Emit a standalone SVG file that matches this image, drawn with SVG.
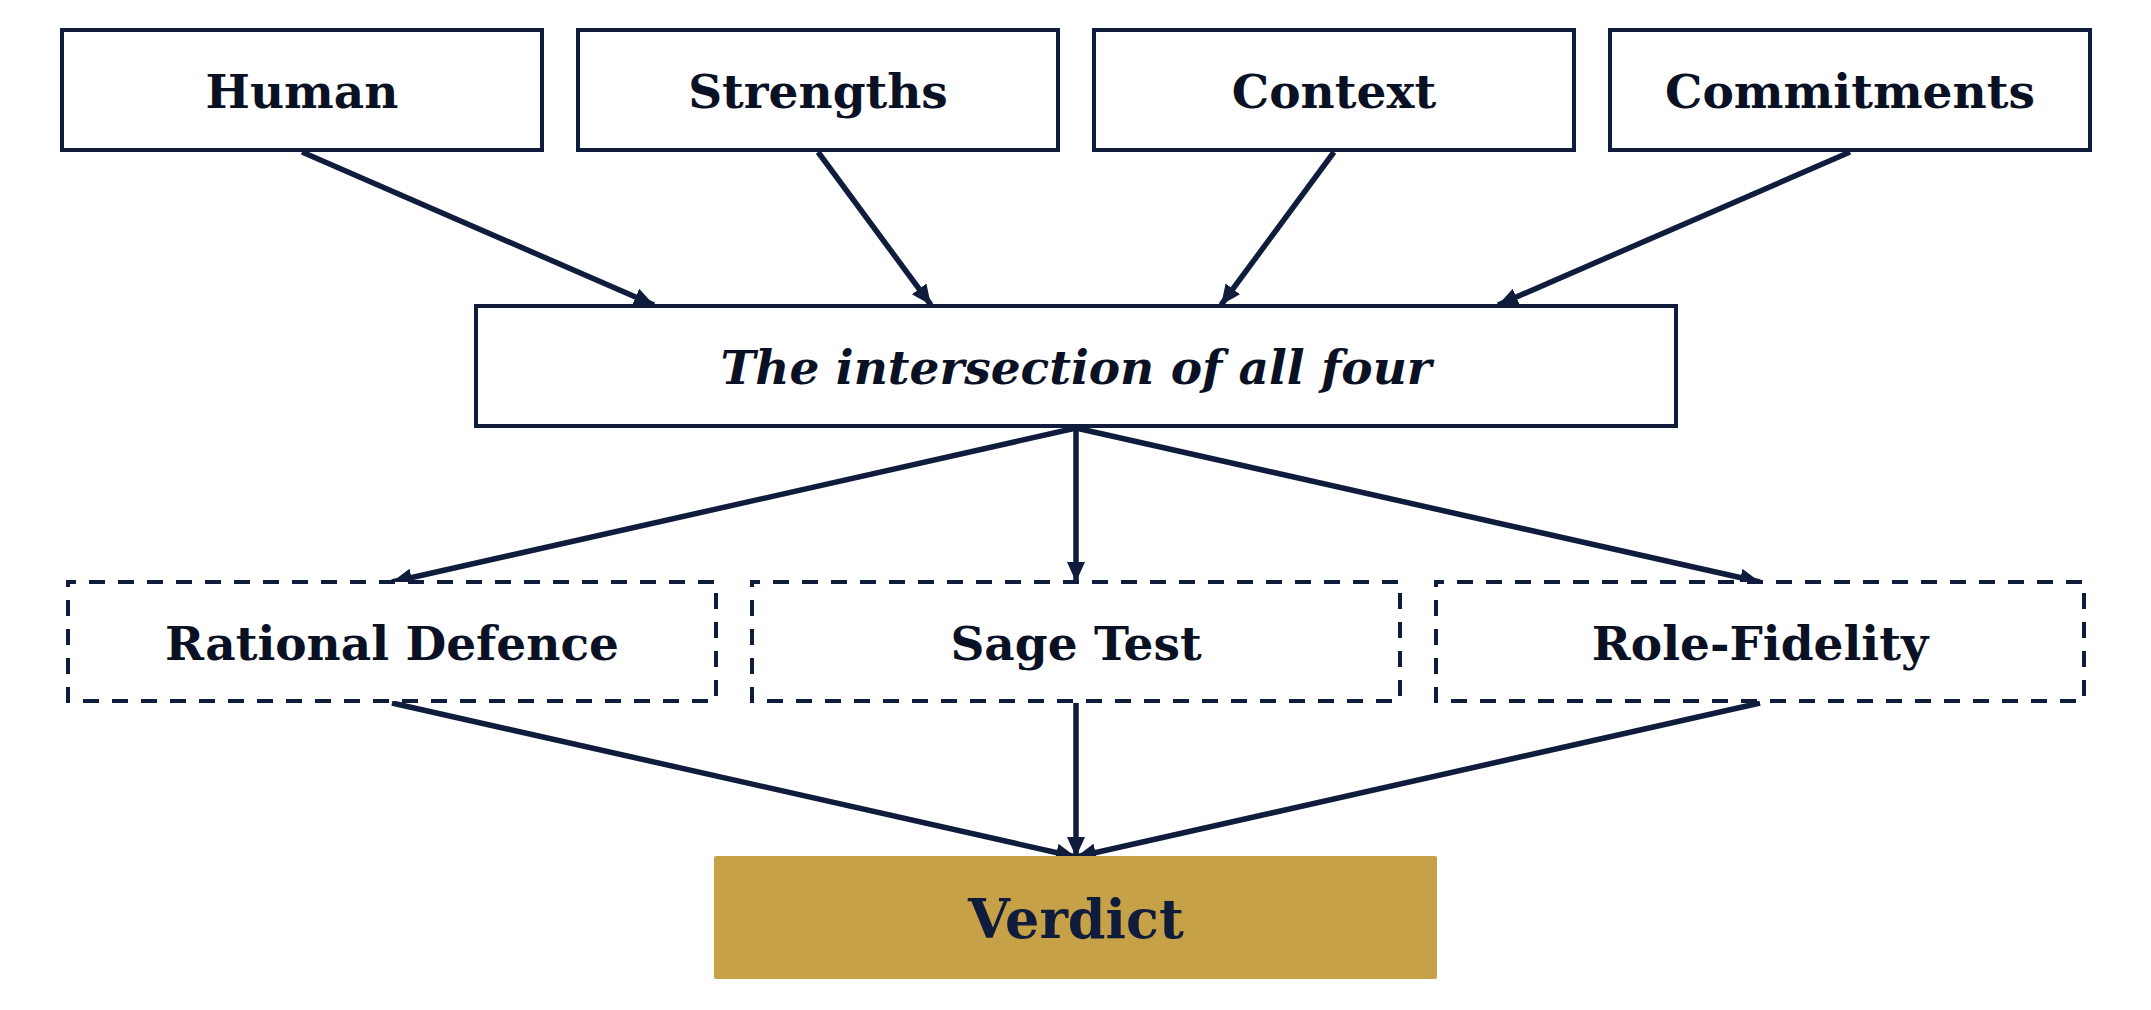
<svg xmlns="http://www.w3.org/2000/svg" width="2151" height="1010" viewBox="0 0 2151 1010">
<style>
.box{fill:#ffffff;stroke:#0f1c3b;stroke-width:4;}
.dash{fill:#ffffff;stroke:#0f1c3b;stroke-width:4;stroke-dasharray:16 13;stroke-dashoffset:8;}
.verdict{fill:#c6a147;}
.lbl{font-family:"DejaVu Serif",serif;font-weight:bold;font-size:47px;fill:#0b1124;text-anchor:middle;}
.it{font-style:italic;}
.big{font-size:54px;fill:#0f1c3b;}
.conn line{stroke:#0f1c3b;stroke-width:5.5;marker-end:url(#ah);}
</style>
<defs>
<marker id="ah" markerUnits="userSpaceOnUse" markerWidth="22" markerHeight="20" refX="20" refY="9" orient="auto">
<path d="M0,0 L20,9 L0,18 z" fill="#0f1c3b"/>
</marker>
</defs>
<rect width="2151" height="1010" fill="#ffffff"/>
<g id="connectors" class="conn">
<line x1="302" y1="152" x2="654" y2="305"/>
<line x1="818" y1="152" x2="931" y2="305"/>
<line x1="1334" y1="152" x2="1221" y2="305"/>
<line x1="1850" y1="152" x2="1498" y2="305"/>
<line x1="1076" y1="428" x2="392" y2="582"/>
<line x1="1076" y1="428" x2="1076" y2="582"/>
<line x1="1076" y1="428" x2="1760" y2="582"/>
<line x1="392" y1="703" x2="1076" y2="857"/>
<line x1="1076" y1="703" x2="1076" y2="857"/>
<line x1="1760" y1="703" x2="1076" y2="857"/>
</g>
<g id="human"><rect class="box" x="62" y="30" width="480" height="120"/><text class="lbl" x="302" y="108">Human</text></g>
<g id="strengths"><rect class="box" x="578" y="30" width="480" height="120"/><text class="lbl" x="818" y="108">Strengths</text></g>
<g id="context"><rect class="box" x="1094" y="30" width="480" height="120"/><text class="lbl" x="1334" y="108">Context</text></g>
<g id="commitments"><rect class="box" x="1610" y="30" width="480" height="120"/><text class="lbl" x="1850" y="108">Commitments</text></g>
<g id="intersection"><rect class="box" x="476" y="306" width="1200" height="120"/><text class="lbl it" x="1076" y="384">The intersection of all four</text></g>
<g id="rational-defence"><rect class="dash" x="68" y="582" width="648" height="119"/><text class="lbl" x="392" y="660">Rational Defence</text></g>
<g id="sage-test"><rect class="dash" x="752" y="582" width="648" height="119"/><text class="lbl" x="1076" y="660">Sage Test</text></g>
<g id="role-fidelity"><rect class="dash" x="1436" y="582" width="648" height="119"/><text class="lbl" x="1760" y="660">Role-Fidelity</text></g>
<g id="verdict"><rect class="verdict" x="714" y="856" width="723" height="123" rx="2"/><text class="lbl big" x="1076" y="938">Verdict</text></g>
</svg>
